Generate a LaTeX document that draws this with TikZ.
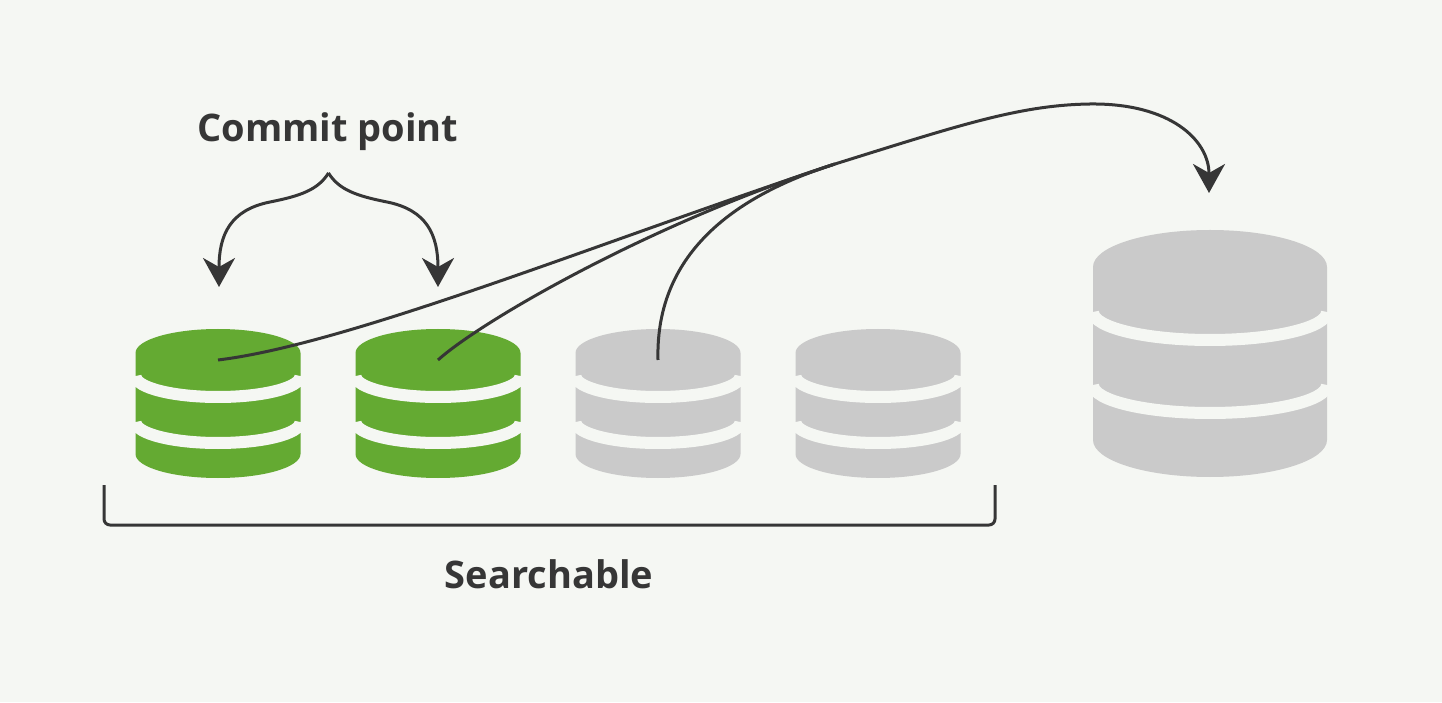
\documentclass[tikz,border=0pt]{standalone}
\usepackage{fontspec}
\setmainfont{Open Sans}
\usetikzlibrary{arrows.meta}

\definecolor{bgpaper}{HTML}{F5F7F3}
\definecolor{dbgreen}{HTML}{64AA32}
\definecolor{dbgray}{HTML}{CACACA}
\definecolor{inkdark}{HTML}{363636}

\tikzset{
  label text/.style={text=inkdark,font=\fontsize{38}{45}\selectfont\bfseries,inner sep=0pt},
  stripe/.style={draw=bgpaper,line width=12pt},
  link/.style={draw=inkdark,line width=3pt},
  tip/.style={-{Stealth[length=29pt,width=32pt,inset=9pt]}}
}

\begin{document}
\begin{tikzpicture}[x=1pt,y=1pt]
      \useasboundingbox (0,0) rectangle (1442,702);
      \fill[bgpaper] (0,0) rectangle (1442,702);

      % four small segments
      \foreach \x/\c in {218/dbgreen,438/dbgreen,658/dbgray,878/dbgray} {
        \fill[\c] (\x-82.5,349) -- (\x-82.5,248)
          arc[start angle=180,end angle=360,x radius=82.5,y radius=24]
          -- (\x+82.5,349)
          arc[start angle=0,end angle=180,x radius=82.5,y radius=24] -- cycle;
        \draw[stripe] (\x-82.5,326) arc[start angle=180,end angle=360,x radius=82.5,y radius=21];
        \draw[stripe] (\x-82.5,280) arc[start angle=180,end angle=360,x radius=82.5,y radius=21];
      }

      % big segment
      \fill[dbgray] (1093,435) -- (1093,262)
        arc[start angle=180,end angle=360,x radius=117,y radius=37]
        -- (1327,435)
        arc[start angle=0,end angle=180,x radius=117,y radius=37] -- cycle;
      \draw[stripe] (1093,390) arc[start angle=180,end angle=360,x radius=117,y radius=28];
      \draw[stripe] (1093,317) arc[start angle=180,end angle=360,x radius=117,y radius=28];

      \coordinate (1) at (218,342);
      \coordinate (2) at (438,342);
      \coordinate (3) at (658,342);
      \coordinate (m) at (835,538);
      \coordinate (big) at (1209,509);

      \node[label text,anchor=base] (commit) at (328,560) {Commit point};
      \coordinate (apex) at (328.5,529);
      \coordinate (c1) at (219,415);
      \coordinate (c2) at (438,415);

      \node[label text,anchor=base] (search) at (549,114) {Searchable};
      \coordinate (bl) at (104,217);
      \coordinate (br) at (995,217);

      % brace arrows
      \draw[link,tip] (apex) .. controls (318,512) and (300,506) .. (270,500)
        .. controls (230,492) and (219,467) .. (c1);
      \draw[link,tip] (apex) .. controls (339,512) and (357,506) .. (387,500)
        .. controls (427,492) and (438,467) .. (c2);

      % merge
      \draw[link] (1) .. controls (350,358) and (600,460) .. (m);
      \draw[link] (2) .. controls (480,380) and (650,479) .. (m);
      \draw[link] (3) .. controls (655,452) and (740,508) .. (m);
      \draw[link,tip] (m) .. controls (960,577) and (1020,597) .. (1090,598)
        .. controls (1170,599) and (1209,562) .. (big);

      % bracket
      \draw[link,rounded corners=6pt] (bl) |- (549,177) -| (br);
    \end{tikzpicture}
\end{document}
